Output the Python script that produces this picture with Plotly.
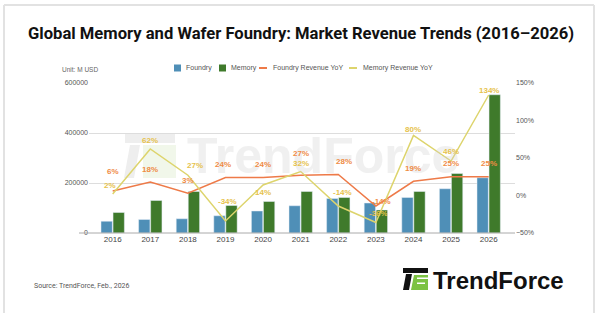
import plotly.graph_objects as go

years = ["2016", "2017", "2018", "2019", "2020", "2021", "2022", "2023", "2024", "2025", "2026"]
foundry_rev = [47000, 54000, 57000, 69000, 88000, 109000, 138000, 120000, 142000, 177000, 221000]
memory_rev = [82000, 130000, 166000, 110000, 126000, 166000, 142000, 92000, 166000, 238000, 553000]
foundry_yoy = [6, 18, 3, 24, 24, 27, 28, -14, 19, 25, 25]
memory_yoy = [2, 62, 27, -34, 14, 32, -14, -36, 80, 46, 134]

# label placement (pixel shifts of the value labels, styling only)
foundry_lab_dy = [20, 13, 13, 13, 13, 22, 13, 5, 13, 13, 13]
foundry_lab_dx = [0, 0, 0, -2, 0, 0, 6, 6, 0, 0, 0]
memory_lab_dy = [9, 9, 10, 20, -7, 8, 14, 9, 6, 10, 5]
memory_lab_dx = [-3, 0, 7, 2, 0, 0, 4, 3, 0, 0, 0]

C_FOUNDRY = "#4F8FB7"
C_MEMORY = "#3F7A2B"
C_FYOY = "#EE7A48"
C_MYOY = "#DDD46C"
C_FLAB = "#EF8C45"
C_MLAB = "#E6C24C"

W, H = 602, 324
L, R, T, B = 89, 515, 83, 233


def px(x):
    return (x - L) / (R - L)


def py(y):
    return (B - y) / (B - T)


fig = go.Figure()
fig.add_trace(go.Bar(x=years, y=foundry_rev, name="Foundry", marker_color=C_FOUNDRY))
fig.add_trace(go.Bar(x=years, y=memory_rev, name="Memory", marker_color=C_MEMORY))
fig.add_trace(go.Scatter(
    x=years, y=foundry_yoy, name="Foundry Revenue YoY", yaxis="y2", mode="lines",
    line=dict(color=C_FYOY, width=1.5),
))
fig.add_trace(go.Scatter(
    x=years, y=memory_yoy, name="Memory Revenue YoY", yaxis="y2", mode="lines",
    line=dict(color=C_MYOY, width=1.5),
))

shapes = []
annotations = []

# watermark (drawn first so labels sit above it)
annotations.append(dict(text="<b>TrendForce</b>", xref="paper", yref="paper", x=px(185), y=py(156), showarrow=False,
                        xanchor="left", yanchor="middle", opacity=0.3,
                        font=dict(family="Liberation Sans", size=50, color="#D0D0D0")))
shapes.append(dict(type="rect", xref="paper", yref="paper", x0=px(125), x1=px(175), y0=py(143), y1=py(134),
                   fillcolor="rgba(200,200,200,0.3)", line=dict(width=0), layer="below"))
shapes.append(dict(type="path", xref="paper", yref="paper",
                   path=f"M {px(130)} {py(145)} L {px(140)} {py(145)} L {px(134)} {py(178)} L {px(124)} {py(178)} Z",
                   fillcolor="rgba(200,200,200,0.3)", line=dict(width=0), layer="below"))
shapes.append(dict(type="rect", xref="paper", yref="paper", x0=px(143), x1=px(176), y0=py(178), y1=py(145),
                   fillcolor="rgba(190,220,160,0.22)", line=dict(width=0), layer="below"))

# value labels (x given as category index)
lab_font = dict(family="Liberation Sans", size=8, weight="bold")
for i, yr in enumerate(years):
    annotations.append(dict(text=f"{foundry_yoy[i]}%", x=i, y=foundry_yoy[i], xref="x", yref="y2",
                            showarrow=False, yshift=foundry_lab_dy[i], xshift=foundry_lab_dx[i],
                            font=dict(**lab_font, color=C_FLAB)))
    annotations.append(dict(text=f"{memory_yoy[i]}%", x=i, y=memory_yoy[i], xref="x", yref="y2",
                            showarrow=False, yshift=memory_lab_dy[i], xshift=memory_lab_dx[i],
                            font=dict(**lab_font, color=C_MLAB)))

# card frame
frame_col = "#E2E2E2"
shapes.append(dict(type="line", xref="paper", yref="paper", x0=px(4), x1=px(4), y0=py(5), y1=py(313),
                   line=dict(color=frame_col, width=2)))
shapes.append(dict(type="line", xref="paper", yref="paper", x0=px(594), x1=px(594), y0=py(5), y1=py(313),
                   line=dict(color=frame_col, width=2)))
shapes.append(dict(type="line", xref="paper", yref="paper", x0=px(4), x1=px(594), y0=py(5), y1=py(5),
                   line=dict(color=frame_col, width=2)))
# baseline extension
shapes.append(dict(type="line", xref="paper", yref="paper", x0=px(79), x1=1, y0=0, y1=0,
                   line=dict(color="#AAAAAA", width=1)))

# title
annotations.append(dict(text="<b>Global Memory and Wafer Foundry: Market Revenue Trends (2016–2026)</b>",
                        xref="paper", yref="paper", x=px(301), y=py(33), showarrow=False,
                        xanchor="center", yanchor="middle",
                        font=dict(family="Roboto", size=16.6, color="#111111")))
# unit
annotations.append(dict(text="Unit: M USD", xref="paper", yref="paper", x=px(60), y=py(69), showarrow=False,
                        xanchor="left", yanchor="middle", font=dict(family="Liberation Sans", size=6.5, color="#666666")))
# source
annotations.append(dict(text="Source: TrendForce, Feb., 2026", xref="paper", yref="paper", x=px(32), y=py(286),
                        showarrow=False, xanchor="left", yanchor="middle",
                        font=dict(family="Roboto", size=7, color="#555555")))

# custom legend
leg_y = 68
lf = dict(family="Liberation Sans", size=7, color="#555555")
shapes.append(dict(type="rect", xref="paper", yref="paper", x0=px(174), x1=px(181), y0=py(leg_y - 3.5), y1=py(leg_y + 3.5),
                   fillcolor=C_FOUNDRY, line=dict(width=0)))
annotations.append(dict(text="Foundry", xref="paper", yref="paper", x=px(184), y=py(leg_y), showarrow=False,
                        xanchor="left", yanchor="middle", font=lf))
shapes.append(dict(type="rect", xref="paper", yref="paper", x0=px(219), x1=px(226), y0=py(leg_y - 3.5), y1=py(leg_y + 3.5),
                   fillcolor=C_MEMORY, line=dict(width=0)))
annotations.append(dict(text="Memory", xref="paper", yref="paper", x=px(229), y=py(leg_y), showarrow=False,
                        xanchor="left", yanchor="middle", font=lf))
shapes.append(dict(type="line", xref="paper", yref="paper", x0=px(259), x1=px(267), y0=py(leg_y), y1=py(leg_y),
                   line=dict(color=C_FYOY, width=2)))
annotations.append(dict(text="Foundry Revenue YoY", xref="paper", yref="paper", x=px(271), y=py(leg_y), showarrow=False,
                        xanchor="left", yanchor="middle", font=lf))
shapes.append(dict(type="line", xref="paper", yref="paper", x0=px(349), x1=px(357), y0=py(leg_y), y1=py(leg_y),
                   line=dict(color=C_MYOY, width=2)))
annotations.append(dict(text="Memory Revenue YoY", xref="paper", yref="paper", x=px(361), y=py(leg_y), showarrow=False,
                        xanchor="left", yanchor="middle", font=lf))

# logo bottom right
shapes.append(dict(type="rect", xref="paper", yref="paper", x0=px(403), x1=px(428), y0=py(273), y1=py(268),
                   fillcolor="#111111", line=dict(width=0)))
shapes.append(dict(type="path", xref="paper", yref="paper",
                   path=f"M {px(406)} {py(274)} L {px(412)} {py(274)} L {px(409)} {py(290)} L {px(403)} {py(290)} Z",
                   fillcolor="#111111", line=dict(width=0)))
shapes.append(dict(type="path", xref="paper", yref="paper",
                   path=f"M {px(414)} {py(275)} L {px(428)} {py(275)} L {px(428)} {py(290)} L {px(411)} {py(290)} Z",
                   fillcolor="#7CC242", line=dict(width=0)))
shapes.append(dict(type="rect", xref="paper", yref="paper", x0=px(417), x1=px(428), y0=py(279), y1=py(277.5),
                   fillcolor="white", line=dict(width=0)))
shapes.append(dict(type="rect", xref="paper", yref="paper", x0=px(417), x1=px(425), y0=py(284), y1=py(282.5),
                   fillcolor="white", line=dict(width=0)))
annotations.append(dict(text="<b>TrendForce</b>", xref="paper", yref="paper", x=px(431), y=py(280), showarrow=False,
                        xanchor="left", yanchor="middle", font=dict(family="Liberation Sans", size=24, color="#111111")))

fig.update_layout(
    width=W, height=H,
    margin=dict(l=L, r=W - R, t=T, b=H - B, pad=0),
    paper_bgcolor="white", plot_bgcolor="white",
    showlegend=False,
    barmode="group", bargap=0.36, bargroupgap=0.06,
    xaxis=dict(type="category", range=[-0.63, 10.7], showgrid=False, showline=False, ticks="",
               tickfont=dict(family="Liberation Sans", size=8, color="#444444")),
    yaxis=dict(range=[0, 600000], dtick=200000, tickformat="d", showgrid=True, gridcolor="#DDDDDD",
               gridwidth=1, zeroline=False, showline=False, ticks="",
               tickfont=dict(family="Liberation Sans", size=7, color="#555555")),
    yaxis2=dict(overlaying="y", side="right", range=[-50, 150], dtick=50, ticksuffix="%", showgrid=False,
                zeroline=False, showline=False, ticks="",
                tickfont=dict(family="Liberation Sans", size=7, color="#555555")),
    shapes=shapes,
    annotations=annotations,
)

fig.write_html("out.html")
